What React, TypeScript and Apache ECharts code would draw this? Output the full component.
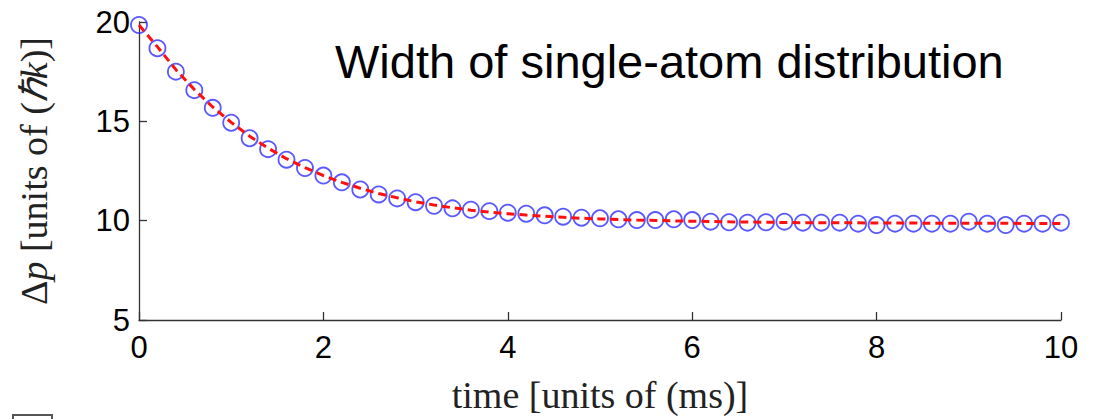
import React, { useEffect, useRef } from "react";
import * as echarts from "echarts";

const times = [
  0.0, 0.2, 0.4, 0.6, 0.8, 1.0, 1.2, 1.4, 1.6, 1.8,
  2.0, 2.2, 2.4, 2.6, 2.8, 3.0, 3.2, 3.4, 3.6, 3.8,
  4.0, 4.2, 4.4, 4.6, 4.8, 5.0, 5.2, 5.4, 5.6, 5.8,
  6.0, 6.2, 6.4, 6.6, 6.8, 7.0, 7.2, 7.4, 7.6, 7.8,
  8.0, 8.2, 8.4, 8.6, 8.8, 9.0, 9.2, 9.4, 9.6, 9.8,
  10.0,
];

const measuredWidth = [
  19.85, 18.68, 17.5, 16.57, 15.68, 14.93, 14.15, 13.6, 13.07, 12.65,
  12.27, 11.93, 11.57, 11.32, 11.12, 10.93, 10.75, 10.62, 10.55, 10.48,
  10.4, 10.35, 10.27, 10.2, 10.15, 10.12, 10.07, 10.03, 10.03, 10.07,
  10.03, 9.95, 9.92, 9.9, 9.92, 9.95, 9.9, 9.9, 9.9, 9.85,
  9.78, 9.85, 9.85, 9.85, 9.85, 9.95, 9.85, 9.78, 9.85, 9.85,
  9.9,
];

const fitWidth = [
  19.85, 18.75, 17.6, 16.6, 15.72, 14.95, 14.25, 13.65, 13.12, 12.67,
  12.27, 11.93, 11.63, 11.37, 11.15, 10.95, 10.79, 10.65, 10.53, 10.43,
  10.35, 10.28, 10.22, 10.17, 10.12, 10.09, 10.06, 10.03, 10.01, 9.99,
  9.97, 9.96, 9.94, 9.93, 9.92, 9.91, 9.9, 9.9, 9.89, 9.89,
  9.88, 9.88, 9.88, 9.87, 9.87, 9.87, 9.87, 9.87, 9.86, 9.86,
  9.86,
];

const xTicks = [0, 2, 4, 6, 8, 10];
const yTicks = [5, 10, 15, 20];

const titleText = "Width of single-atom distribution";
const xName = "time [units of (ms)]";
const yName = "Δ{it|p} [units of ({it|ℏk})]";

export default function App() {
  const ref = useRef<HTMLDivElement>(null);

  useEffect(() => {
    if (!ref.current) return;
    const chart = echarts.init(ref.current, null, { renderer: "svg" });
    const tickFont = {
      fontFamily: "'Liberation Sans', Arial, sans-serif",
      fontSize: 31,
      color: "#000",
    };
    const serif = "'Liberation Serif', 'Times New Roman', serif";
    chart.setOption({
      animation: false,
      backgroundColor: "#fff",
      grid: { left: 139, right: 40, top: 22, bottom: 96, containLabel: false },
      xAxis: {
        type: "value",
        min: xTicks[0],
        max: xTicks[xTicks.length - 1],
        interval: 2,
        name: xName,
        nameLocation: "middle",
        nameGap: 56,
        nameTextStyle: { fontFamily: serif, fontSize: 38, color: "#222" },
        axisLine: { show: true, lineStyle: { color: "#333", width: 1.3 } },
        axisTick: { show: true, inside: true, length: 8, lineStyle: { color: "#333", width: 1.3 } },
        axisLabel: { ...tickFont, margin: 12 },
        splitLine: { show: false },
      },
      yAxis: {
        type: "value",
        min: yTicks[0],
        max: yTicks[yTicks.length - 1],
        interval: 5,
        name: yName,
        nameLocation: "middle",
        nameGap: 86,
        nameRotate: 90,
        nameTextStyle: {
          fontFamily: serif,
          fontSize: 38,
          color: "#222",
          rich: {
            it: { fontFamily: serif, fontSize: 38, fontStyle: "italic", color: "#222" },
          },
        },
        axisLine: { show: true, lineStyle: { color: "#333", width: 1.3 } },
        axisTick: { show: true, inside: true, length: 8, lineStyle: { color: "#333", width: 1.3 } },
        axisLabel: { ...tickFont, margin: 9, padding: [4, 0, 0, 0] },
        splitLine: { show: false },
      },
      graphic: [
        {
          type: "text",
          left: 335,
          top: 38,
          style: {
            text: titleText,
            fontFamily: "'Liberation Sans', Arial, sans-serif",
            fontSize: 47,
            fill: "#000",
          },
        },
        {
          type: "rect",
          shape: { x: 13, y: 415, width: 39, height: 12 },
          style: { fill: "none", stroke: "#555", lineWidth: 2 },
        },
      ],
      series: [
        {
          type: "scatter",
          data: times.map((t, i) => [t, measuredWidth[i]]),
          symbol: "circle",
          symbolSize: 16,
          itemStyle: { color: "transparent", borderColor: "#3030ff", borderWidth: 1.8 },
          z: 2,
          clip: false,
        },
        {
          type: "line",
          data: times.map((t, i) => [t, fitWidth[i]]),
          showSymbol: false,
          symbol: "none",
          smooth: false,
          lineStyle: { color: "#ff1010", width: 3, type: [8, 5] },
          z: 3,
        },
      ],
    });
    return () => chart.dispose();
  }, []);

  return (
    <div
      ref={ref}
      style={{ position: "fixed", left: 0, top: 0, width: 1101, height: 419, background: "#fff" }}
    />
  );
}
